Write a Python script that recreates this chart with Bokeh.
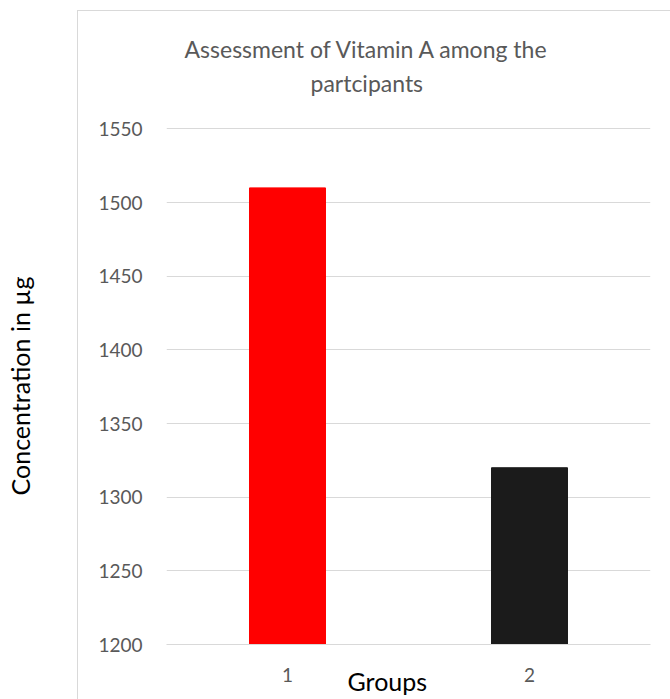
from bokeh.plotting import figure
from bokeh.models import FactorRange, Range1d, FixedTicker, Title, ColumnDataSource, InlineStyleSheet
from bokeh.embed import file_html
from bokeh.resources import INLINE

groups = ["1", "2"]
values = [1510, 1320]
colors = ["#FF0000", "#1B1B1B"]
y_ticks = [1200, 1250, 1300, 1350, 1400, 1450, 1500, 1550]
title_lines = ["Assessment of Vitamin A among the", "partcipants"]
x_title = "Groups"
y_title = "Concentration in µg"

FONT = "Lato"
W, H = 670, 699

border_css = InlineStyleSheet(css="""
:host::after {
  content: "";
  position: absolute;
  left: 77px; top: 10px; right: -2px; bottom: -2px;
  border-left: 1px solid #D9D9D9;
  border-top: 1px solid #D9D9D9;
  pointer-events: none;
  z-index: 10;
}
""")

p = figure(width=W, height=H, x_range=FactorRange(*groups), y_range=Range1d(1200, 1551),
           output_backend="svg", toolbar_location=None,
           min_border_left=166, min_border_right=20, min_border_top=127, min_border_bottom=55,
           stylesheets=[border_css])
p.title = None
p.outline_line_color = None
p.background_fill_color = "white"
p.border_fill_color = "white"

src = ColumnDataSource(dict(x=groups, top=values, color=colors))
p.vbar(x="x", top="top", bottom=1200, width=0.314, color="color", source=src)

p.xgrid.grid_line_color = None
p.ygrid.grid_line_color = "#D9D9D9"
p.ygrid.grid_line_width = 1
p.yaxis.ticker = FixedTicker(ticks=y_ticks)
p.yaxis.axis_line_color = None
p.yaxis.major_tick_line_color = None
p.yaxis.minor_tick_line_color = None
p.yaxis.major_label_text_font = FONT
p.yaxis.major_label_text_font_size = "19px"
p.yaxis.major_label_text_color = "#595959"
p.yaxis.major_label_standoff = 18
p.yaxis.axis_label = y_title
p.yaxis.axis_label_standoff = 60
p.yaxis.axis_label_text_font = FONT
p.yaxis.axis_label_text_font_size = "25px"
p.yaxis.axis_label_text_font_style = "normal"
p.yaxis.axis_label_text_color = "#000000"

p.xaxis.axis_line_color = "#D9D9D9"
p.xaxis.major_tick_line_color = None
p.xaxis.minor_tick_line_color = None
p.xaxis.major_label_text_font = FONT
p.xaxis.major_label_text_font_size = "19px"
p.xaxis.major_label_text_color = "#595959"
p.xaxis.major_label_standoff = 17

# title: second line closest to the frame, first line above it
p.add_layout(Title(text=title_lines[1], align="left", offset=144, standoff=62,
                   text_font=FONT, text_font_size="23px", text_font_style="normal",
                   text_color="#595959"), "above")
p.add_layout(Title(text=title_lines[0], align="left", offset=18, standoff=-54,
                   text_font=FONT, text_font_size="23px", text_font_style="normal",
                   text_color="#595959"), "above")

p.add_layout(Title(text=x_title, align="left", offset=181, standoff=-38, vertical_align="top",
                   text_font=FONT, text_font_size="25px", text_font_style="normal",
                   text_color="#000000"), "below")

open("out.html", "w").write(file_html(p, INLINE))
